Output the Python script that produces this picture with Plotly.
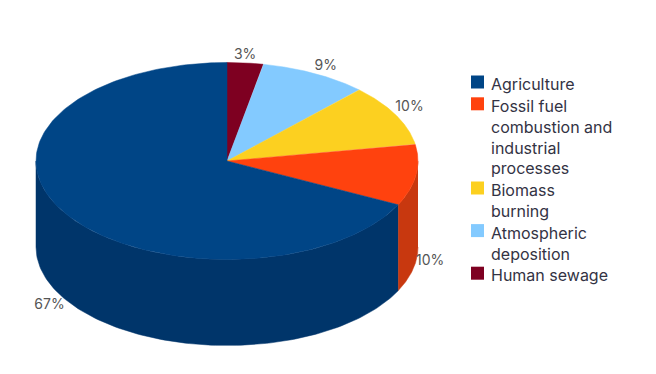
import numpy as np
import plotly.graph_objects as go

# Data, clockwise from 12 o'clock
categories = ["Human sewage", "Atmospheric deposition", "Biomass burning",
              "Fossil fuel combustion and industrial processes", "Agriculture"]
values = [3, 9, 10, 10, 67]
labels = ["3%", "9%", "10%", "10%", "67%"]
top_colors = ["#7e0021", "#83caff", "#fcd020", "#ff420e", "#004586"]
side_colors = ["#5e0018", "#6298bf", "#bd9c18", "#c8380f", "#00356a"]
label_pos = ["top center", "top right", "top right", "middle right", "bottom left"]

# Legend, top to bottom
legend_names = ["Agriculture", "Fossil fuel<br>combustion and<br>industrial<br>processes",
                "Biomass<br>burning", "Atmospheric<br>deposition", "Human sewage"]
legend_colors = ["#004586", "#ff420e", "#fcd020", "#83caff", "#7e0021"]

# Geometry of the drawing (pixels in the 656x374 window; the page has an 8px body margin)
W, H, PAGE = 656, 374, 8
CX, CY, RX, RY, DEPTH = 227, 161, 191, 98.5, 86
FONT = "Inter, Liberation Sans, Arial, sans-serif"
LINE, ITEM_GAP = 20.8, 1.0


def ex(a):
    return CX + RX * np.sin(a)


def ey(a):
    return CY - RY * np.cos(a)


fracs = np.cumsum([0] + values) / sum(values) * 2 * np.pi
fig = go.Figure()

# Side walls (only the front half, 90..270 degrees clockwise from top)
for i in range(len(values)):
    a0, a1 = max(fracs[i], np.pi / 2), min(fracs[i + 1], 3 * np.pi / 2)
    if a1 <= a0:
        continue
    a = np.linspace(a0, a1, 120)
    fig.add_trace(go.Scatter(
        x=np.r_[ex(a), ex(a[::-1])], y=np.r_[ey(a), ey(a[::-1]) + DEPTH],
        mode="lines", fill="toself", fillcolor=side_colors[i],
        line=dict(color=side_colors[i], width=0.5), hoverinfo="skip", showlegend=False))

# Top faces
for i in range(len(values)):
    a = np.linspace(fracs[i], fracs[i + 1], 200)
    fig.add_trace(go.Scatter(
        x=np.r_[CX, ex(a), CX], y=np.r_[CY, ey(a), CY],
        mode="lines", fill="toself", fillcolor=top_colors[i],
        line=dict(color=top_colors[i], width=0.5), name=categories[i],
        hoverinfo="skip", showlegend=False))

# Percentage labels
mid = (fracs[:-1] + fracs[1:]) / 2
lift = np.where(np.cos(mid) < 0, DEPTH, 0)
fig.add_trace(go.Scatter(
    x=ex(mid), y=ey(mid) + lift, mode="text", text=labels, textposition=label_pos,
    textfont=dict(family=FONT, size=14, color="#555555"), hoverinfo="skip", showlegend=False))

# Legend
row_y = 73.0
sx, sy = [], []
annotations = []
for name in legend_names:
    sx.append(477.5)
    sy.append(row_y + 9)
    annotations.append(dict(
        x=490, y=row_y, xref="x", yref="y", xanchor="left", yanchor="top", align="left",
        text=name, showarrow=False, borderpad=0, font=dict(family=FONT, size=16, color="#333344")))
    row_y += LINE * (name.count("<br>") + 1) + ITEM_GAP
fig.add_trace(go.Scatter(
    x=sx, y=sy, mode="markers",
    marker=dict(symbol="square", size=13, color=legend_colors, line=dict(width=0)),
    hoverinfo="skip", showlegend=False))

fig.update_layout(
    width=W - 2 * PAGE, height=H - 2 * PAGE, margin=dict(l=0, r=0, t=0, b=0),
    paper_bgcolor="white", plot_bgcolor="white", showlegend=False,
    xaxis=dict(range=[PAGE, W - PAGE], visible=False, fixedrange=True),
    yaxis=dict(range=[H - PAGE, PAGE], visible=False, fixedrange=True),
    annotations=annotations)
fig.write_html("out.html", config=dict(displayModeBar=False))
